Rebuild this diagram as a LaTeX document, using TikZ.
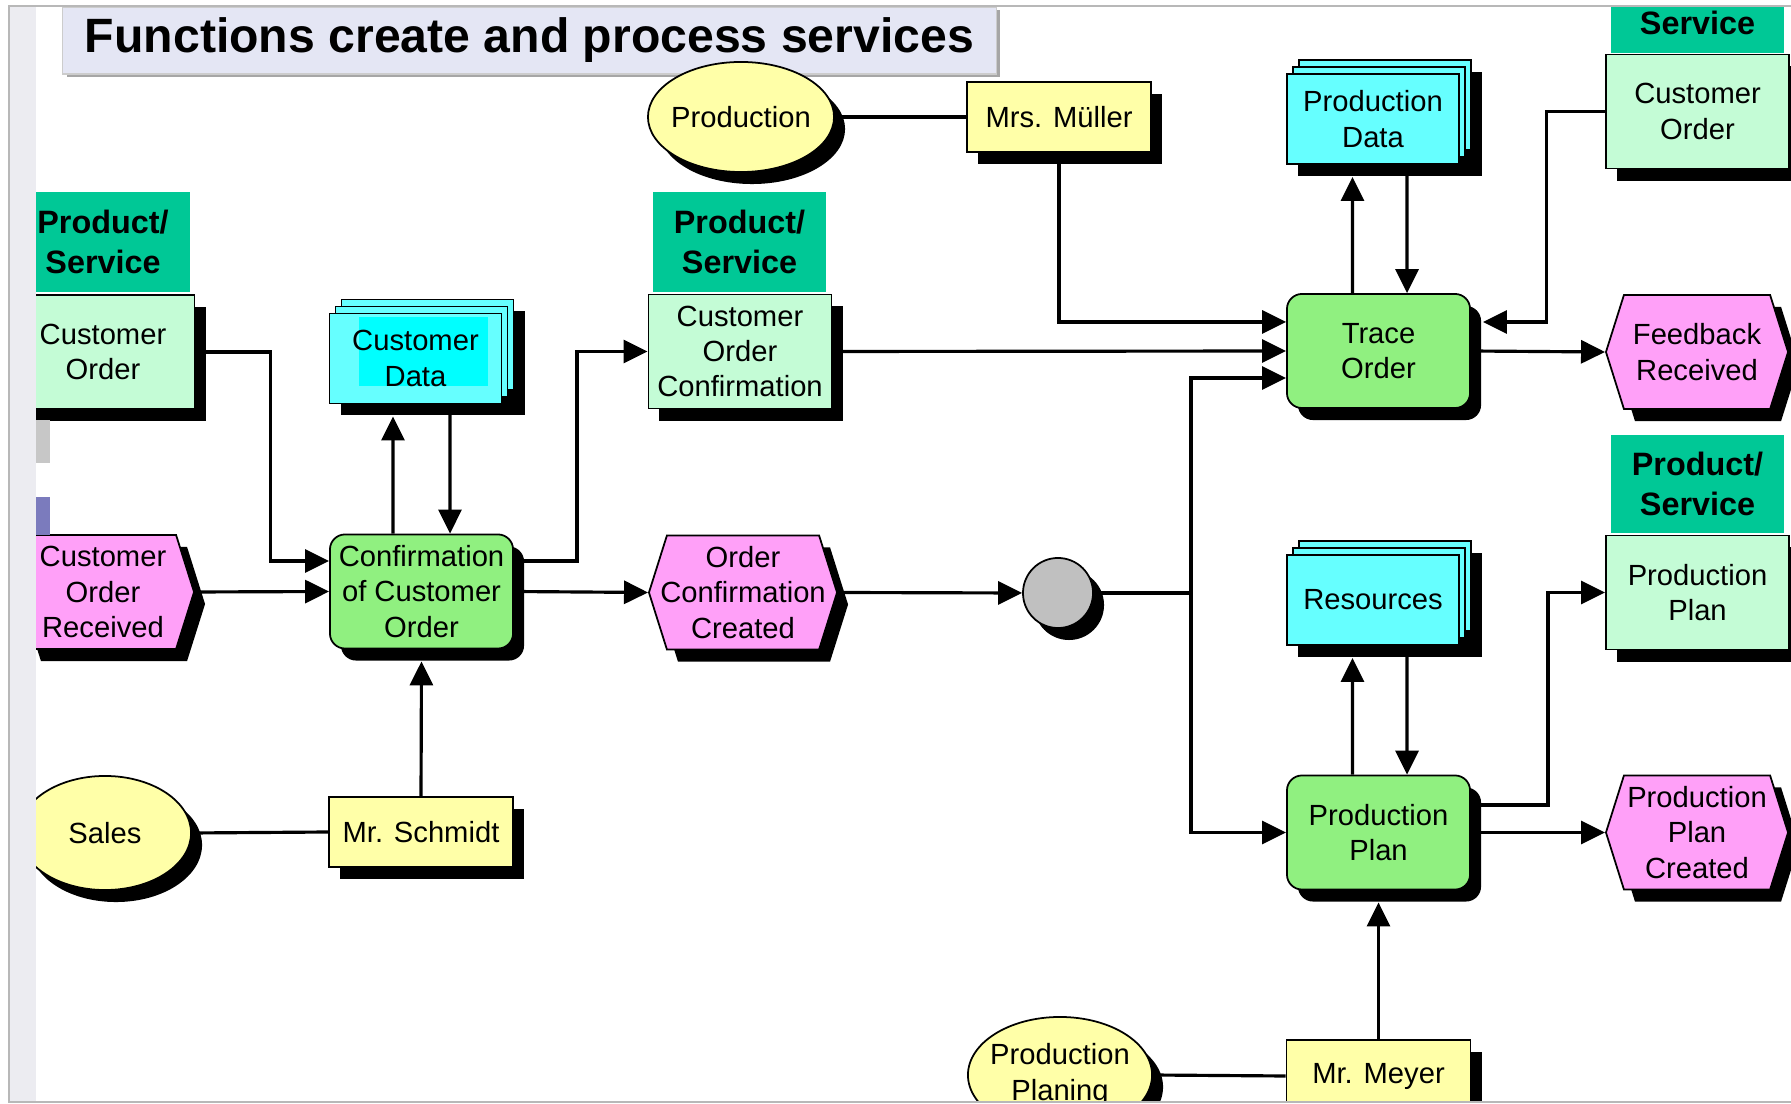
\documentclass[tikz,border=0pt]{standalone}
\usepackage{fontspec}
\setmainfont{Liberation Sans}
\usetikzlibrary{shapes.geometric,shapes.symbols,shadows,calc,arrows.meta}

\definecolor{cHeader}{HTML}{00C896}
\definecolor{cInfo}{HTML}{C4FCD6}
\definecolor{cStore}{HTML}{66FFFF}
\definecolor{cStoreHi}{HTML}{00FFFF}
\definecolor{cFunc}{HTML}{90F080}
\definecolor{cEvent}{HTML}{FFA0F8}
\definecolor{cOrg}{HTML}{FFFFA8}
\definecolor{cTitle}{HTML}{E4E6F4}
\definecolor{cStrip}{HTML}{ECECF1}
\definecolor{cConn}{HTML}{C0C0C0}
\definecolor{cTab}{HTML}{7B7BBD}

% a stack of three documents (data store) with a drop shadow behind it
\newcommand\storestack[5][]{%
  \fill[black] (#3-86+11,#4-45-14+12) rectangle (#3+86+12+11,#4+45+12);
  \filldraw[storelayer] (#3-86+12,#4-45-14) rectangle (#3+86+12,#4+45-14);
  \filldraw[storelayer] (#3-86+6,#4-45-7) rectangle (#3+86+6,#4+45-7);
  \node[storebox,#1] (#2) at (#3,#4) {#5};
}

\begin{document}
\begin{tikzpicture}[x=0.01cm,y=-0.01cm,
  every node/.style={font=\fontsize{8.3}{10}\selectfont, align=center, inner sep=0pt},
  dshadow/.style={drop shadow={shadow xshift=0.11cm, shadow yshift=-0.12cm, fill=black, opacity=1}},
  titlebox/.style={rectangle, fill=cTitle, draw=black!20, line width=0.4pt,
    minimum width=9.33cm, minimum height=0.67cm,
    drop shadow={shadow xshift=0.04cm, shadow yshift=-0.03cm, fill=black!35, opacity=1},
    font=\bfseries\fontsize{13.7}{16}\selectfont},
  header/.style={rectangle, fill=cHeader, minimum width=1.73cm, minimum height=1.0cm,
    font=\bfseries\fontsize{9.2}{11.2}\selectfont},
  infobox/.style={dshadow, rectangle, draw=black, line width=0.5pt, fill=cInfo,
    minimum width=1.83cm, minimum height=1.14cm},
  funcbox/.style={dshadow, rectangle, rounded corners=0.15cm, draw=black, line width=0.5pt,
    fill=cFunc, minimum width=1.83cm, minimum height=1.14cm},
  eventbox/.style={dshadow, signal, signal to=east and west, signal pointer angle=145,
    draw=black, line width=0.5pt, fill=cEvent, minimum width=1.82cm, minimum height=1.14cm},
  orgunit/.style={dshadow, ellipse, draw=black, line width=0.5pt, fill=cOrg},
  person/.style={dshadow, rectangle, draw=black, line width=0.5pt, fill=cOrg,
    minimum width=1.84cm, minimum height=0.70cm},
  storelayer/.style={draw=black, line width=0.5pt, fill=cStore},
  storebox/.style={rectangle, draw=black, line width=0.5pt, fill=cStore,
    minimum width=1.72cm, minimum height=0.90cm},
  xorconn/.style={dshadow, circle, draw=black, line width=0.5pt, fill=cConn, minimum size=0.70cm},
  conn/.style={line width=0.9pt},
  arr/.style={conn, -{Triangle[length=0.24cm, width=0.23cm]}}
]
\useasboundingbox (0,0) rectangle (1791,1104);

\begin{scope}
\clip (9,6) rectangle (1791,1102);

% title
\node[titlebox] (title) at (529.5,40.5) {Functions create and process services};

% top row
\node[orgunit, inner xsep=-0.05cm, minimum width=1.86cm, minimum height=1.10cm] (prod) at (741,117) {Production};
\node[person] (mueller) at (1059,117) {Mrs. Müller};
\storestack{pdata}{1373}{119}{Production\\Data}
\node[header] (hdrA) at (1697.5,3) {Product/\\Service};
\node[infobox] (coA) at (1697.5,111.5) {Customer\\Order};

% second row
\node[header] (hdrB) at (103,242) {Product/\\Service};
\node[infobox] (coB) at (103,352) {Customer\\Order};
\storestack[path picture={\fill[cStoreHi] ($(path picture bounding box.center)+(-57,-41)$) rectangle ($(path picture bounding box.center)+(72,28)$);}]{cdata}{415.5}{358.5}{Customer\\Data}
\node[header] (hdrC) at (739.5,242) {Product/\\Service};
\node[infobox] (coc) at (740,351.5) {Customer\\Order\\Confirmation};
\node[funcbox] (trace) at (1378.5,351) {Trace\\Order};
\node[eventbox] (feedback) at (1697,352) {Feedback\\Received};

% third row
\node[eventbox] (cor) at (103,592) {Customer\\Order\\Received};
\node[funcbox] (conf) at (421.5,591.5) {Confirmation\\of Customer\\Order};
\node[eventbox, inner xsep=-0.14cm, minimum width=1.88cm] (occ) at (743,592.5) {Order\\Confirmation\\Created};
\node[xorconn] (circ) at (1058,593) {};
\storestack{res}{1373}{600}{Resources}
\node[header, minimum height=0.98cm] (hdrD) at (1697.5,484) {Product/\\Service};
\node[infobox] (ppinfo) at (1697.5,592.5) {Production\\Plan};

% fourth row
\node[orgunit, minimum width=1.72cm, minimum height=1.14cm] (sales) at (105,833) {Sales};
\node[person] (schmidt) at (421,832) {Mr. Schmidt};
\node[funcbox] (pp) at (1378.5,832.5) {Production\\Plan};
\node[eventbox] (ppc) at (1697,832.5) {Production\\Plan\\Created};

% bottom row
\node[orgunit, inner xsep=-0.05cm, minimum width=1.84cm, minimum height=1.16cm] (planing) at (1060,1075) {Production\\Planing};
\node[person, minimum height=0.72cm] (meyer) at (1378.5,1076) {Mr. Meyer};

% connectors
\coordinate (jn) at (1191,593);
\draw[conn] (prod.east) -- (mueller.west);
\draw[arr] (mueller.south) |- ([yshift=0.29cm]trace.west);
\draw[arr] (coc.east) -- (trace.west);
\draw[conn] (circ.east) -- (jn);
\draw[arr] (jn) |- ([yshift=-0.27cm]trace.west);
\draw[arr] (jn) |- (pp.west);
\draw[arr] ([xshift=-0.26cm]trace.north) -- ([xshift=-0.205cm,yshift=-0.12cm]pdata.south);
\draw[arr] ([xshift=0.34cm]pdata.south) -- ([xshift=0.285cm]trace.north);
\draw[arr] (coA.west) -- ++(-59,0) |- ([xshift=0.12cm,yshift=0.29cm]trace.east);
\draw[arr] (trace.east) -- (feedback.west);

\draw[arr] ([xshift=-0.26cm]pp.north) -- ([xshift=-0.205cm,yshift=-0.12cm]res.south);
\draw[arr] ([xshift=0.34cm]res.south) -- ([xshift=0.285cm]pp.north);
\draw[arr] ([yshift=0.275cm]pp.east) -- ++(77,0) |- (ppinfo.west);
\draw[arr] (pp.east) -- (ppc.west);
\draw[arr] (meyer.north) -- ([yshift=-0.12cm]pp.south);
\draw[conn] (planing.east) -- (meyer.west);

\draw[arr] (coB.east) -- ++(75,0) |- ([yshift=0.305cm]conf.west);
\draw[arr] (cor.east) -- (conf.west);
\draw[arr] ([xshift=-0.285cm]conf.north) -- ([xshift=-0.225cm,yshift=-0.12cm]cdata.south);
\draw[arr] ([xshift=0.345cm]cdata.south) -- ([xshift=0.285cm]conf.north);
\draw[arr] ([yshift=0.305cm]conf.east) -- ++(63,0) |- (coc.west);
\draw[arr] (conf.east) -- (occ.west);
\draw[arr] (occ.east) -- (circ.west);
\draw[arr] (schmidt.north) -- ([yshift=-0.12cm]conf.south);
\draw[conn] (sales.east) -- (schmidt.west);
\end{scope}

% side strip of the page frame
\fill[cStrip] (9.5,6.5) rectangle (36,1101.5);
\fill[black!22] (36,420) rectangle (50,463);
\fill[cTab] (36,497) rectangle (50,535);
\draw[black!28, line width=0.6pt] (1791,6) -- (9,6) -- (9,1102) -- (1791,1102);
\end{tikzpicture}
\end{document}
